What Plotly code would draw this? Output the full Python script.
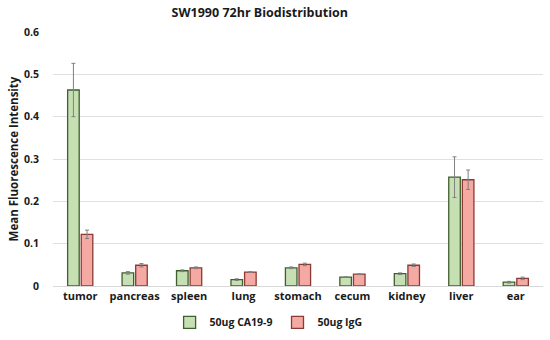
import plotly.graph_objects as go

categories = ["tumor", "pancreas", "spleen", "lung", "stomach", "cecum", "kidney", "liver", "ear"]
ca199 = [0.463, 0.031, 0.036, 0.015, 0.043, 0.021, 0.029, 0.257, 0.009]
ca199_err = [0.063, 0.003, 0.002, 0.002, 0.002, 0.001, 0.002, 0.048, 0.002]
igg = [0.122, 0.049, 0.043, 0.033, 0.051, 0.028, 0.049, 0.251, 0.018]
igg_err = [0.010, 0.004, 0.002, 0.001, 0.003, 0.001, 0.003, 0.023, 0.003]
yticks = [0, 0.1, 0.2, 0.3, 0.4, 0.5, 0.6]
ytick_text = ["0", "0.1", "0.2", "0.3", "0.4", "0.5", "0.6"]

FONT = "Open Sans, sans-serif"

fig = go.Figure()
fig.add_trace(go.Bar(
    x=categories, y=ca199, name="50ug CA19-9",
    marker=dict(color="#C6E0B4", line=dict(color="#3F5F2F", width=1.3)),
    error_y=dict(type="data", array=ca199_err, color="#808080", thickness=1, width=2),
))
fig.add_trace(go.Bar(
    x=categories, y=igg, name="50ug IgG",
    marker=dict(color="#F4A9A2", line=dict(color="#8B3A36", width=1.3)),
    error_y=dict(type="data", array=igg_err, color="#808080", thickness=1, width=2),
))

fig.update_layout(
    width=550, height=340,
    margin=dict(l=53, r=7, t=32, b=54, autoexpand=False),
    paper_bgcolor="white", plot_bgcolor="white",
    barmode="group", bargap=0.5, bargroupgap=0.15,
    font=dict(family=FONT, color="#000000", weight="bold"),
    title=dict(text="SW1990 72hr Biodistribution", x=0.422, xanchor="center",
               xref="paper", yref="container", y=0.962, yanchor="middle",
               font=dict(size=12.5, family=FONT, color="#1a1a1a", weight="bold")),
    showlegend=True,
    legend=dict(orientation="h", x=0.44, xanchor="center", yref="container", y=0.052, yanchor="middle",
                font=dict(size=10.5, family=FONT, color="#1a1a1a", weight="bold"),
                itemwidth=30, traceorder="normal", tracegroupgap=0, entrywidth=0),
    xaxis=dict(showline=True, linecolor="#d9d9d9", linewidth=1, ticks="",
               tickfont=dict(size=11, family=FONT, color="#1a1a1a", weight="bold")),
    yaxis=dict(range=[0, 0.6], tickvals=yticks, ticktext=ytick_text,
               showgrid=True, gridcolor="#e0e0e0", gridwidth=1, zeroline=False,
               tickfont=dict(size=10.5, family=FONT, color="#1a1a1a", weight="bold"), ticklabelstandoff=13,
               title=dict(text="Mean Fluorescence Intensity", standoff=2,
                          font=dict(size=11.5, family=FONT, color="#1a1a1a", weight="bold"))),
)

fig.write_html("out.html", post_script="document.body.style.margin='0';",
               config={"displayModeBar": False})
